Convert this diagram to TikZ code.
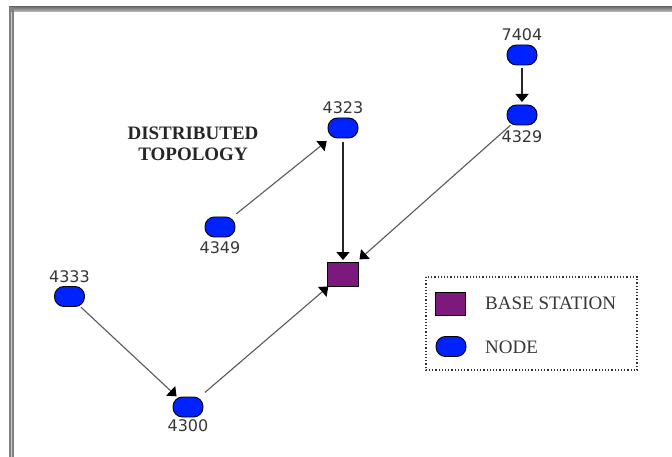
\documentclass[tikz,border=0pt]{standalone}
\usepackage{fontspec}
\setmainfont{Liberation Serif}
\newfontfamily\numfont{DejaVu Sans}
\usetikzlibrary{arrows.meta}
\definecolor{nodeblue}{RGB}{0,34,255}
\definecolor{bspurple}{RGB}{125,25,125}
\definecolor{txt}{RGB}{55,55,55}
\begin{document}
\begin{tikzpicture}[x=1pt,y=-1pt,
  sensor/.style={draw=black, line width=0.9pt, fill=nodeblue, rounded corners=9.5pt,
    minimum width=30pt, minimum height=20pt, inner sep=0pt, outer sep=0pt},
  bs/.style={draw=black, line width=0.9pt, fill=bspurple, minimum width=31pt,
    minimum height=24pt, inner sep=0pt, outer sep=0pt},
  lbl/.style={font=\numfont\fontsize{16}{16}\selectfont, text=txt, inner sep=0pt},
  legtext/.style={font=\fontsize{19}{19}\selectfont, text=txt, inner sep=0pt, anchor=west},
  tip/.style={-{Triangle[width=13pt,length=8pt,color=black]}},
  link/.style={draw=black!65, line width=1.1pt, tip},
  vlink/.style={draw=black!85, line width=1.5pt, tip},
]
\useasboundingbox (0,0) rectangle (672,457);
\fill[white] (0,0) rectangle (672,457);
% frame
\shade[top color=black!55, bottom color=black!25] (9,7) rectangle (672,12);
\fill[black!50] (9,7) rectangle (14,457);
\fill[black!20] (11,12) rectangle (12,457);

% nodes
\node[sensor] (n7404) at (522,55) {};
\node[sensor] (n4329) at (522,115) {};
\node[sensor] (n4323) at (343,128) {};
\node[sensor] (n4349) at (220,227) {};
\node[sensor] (n4333) at (69.5,296.5) {};
\node[sensor] (n4300) at (188,407) {};
\node[bs] (base) at (343,274) {};

% labels
\node[lbl] (l7404) at (522,35) {7404};
\node[lbl] (l4329) at (522,137) {4329};
\node[lbl] (l4323) at (343,108) {4323};
\node[lbl] (l4349) at (220,248) {4349};
\node[lbl] (l4333) at (69.5,277) {4333};
\node[lbl] (l4300) at (188,426) {4300};

\node[align=center, text=black!85, inner sep=0pt,
  font=\bfseries\fontsize{19}{21}\selectfont] (title) at (193,144)
  {DISTRIBUTED\\TOPOLOGY};

% connectors
\draw[vlink, shorten <=3pt, shorten >=3pt] (n7404) -- (n4329);
\draw[vlink, shorten <=4pt, shorten >=2pt] (n4323) -- (base);
\draw[link, shorten <=0.5pt, shorten >=4pt] (n4329) -- (base);
\draw[link, shorten <=5pt, shorten >=5pt] (n4349) -- (n4323);
\draw[link, shorten <=1pt, shorten >=1pt] (n4333) -- (n4300);
\draw[link, shorten <=7pt, shorten >=1pt] (n4300) -- (base);

% legend
\draw[black!80, line width=1.2pt, dotted] (426,277) rectangle (637,370);
\node[bs, minimum width=30pt, minimum height=23pt] (legbs) at (450,303.5) {};
\node[sensor] (legnode) at (451,346.5) {};
\node[legtext] (legbstxt) at (485,303.5) {BASE STATION};
\node[legtext] (legnodetxt) at (485,347) {NODE};
\end{tikzpicture}
\end{document}
